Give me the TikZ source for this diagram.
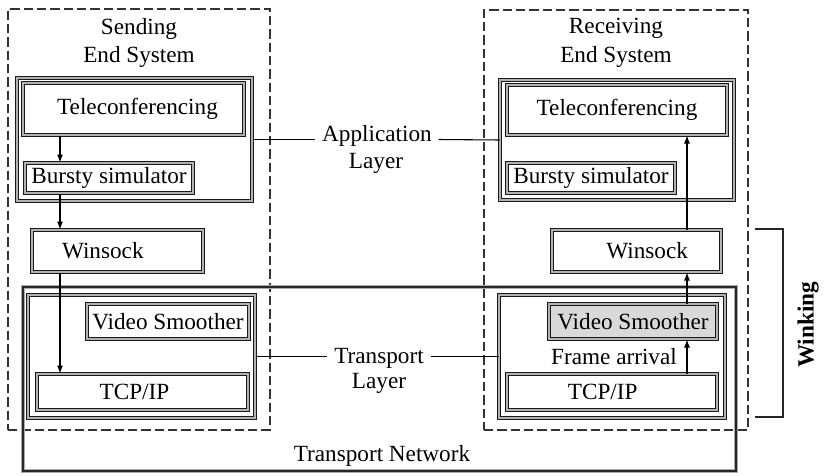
\documentclass[tikz,border=0pt]{standalone}
\usepackage{fontspec}
\setmainfont{Liberation Serif}
\usetikzlibrary{fit,arrows.meta}
\begin{document}
\begin{tikzpicture}[x=0.75pt,y=-0.75pt,
 every node/.style={font=\fontsize{17.4}{21.5}\selectfont},
 every label/.style={font=\fontsize{17.4}{21.5}\selectfont, inner sep=0pt},
 dbox/.style={draw=black!90, line width=0.75pt, double=gray!60, double distance=0.9pt, inner sep=0pt},
 endsys/.style={draw=black!80, line width=1.4pt, dash pattern=on 7pt off 3pt, inner sep=0pt},
 arr/.style={-{Latex[length=6pt,width=4.5pt]}, line width=0.8pt},
 lbl/.style={inner sep=5pt, align=center},
 link/.style={line width=0.8pt},
 net/.style={draw=black!85, line width=0.8pt, preaction={draw=gray!65, line width=2.6pt}}]

\fill[white] (0,0) rectangle (824,475);
\useasboundingbox (0,0) rectangle (824,475);

% end systems
\node[endsys, fit={(8,9) (270,430)}] (sendsys) {};
\node[endsys, fit={(484,10) (748,430)}] (recvsys) {};
\node[lbl] (sendlbl) at (139,43) {Sending\\End System};
\node[lbl] (recvlbl) at (616,43) {Receiving\\End System};

% transport network
\coordinate (n1) at (23,287);
\coordinate (n2) at (736,287);
\coordinate (n3) at (736,471);
\coordinate (n4) at (23,471);
\draw[net] (n1) -- (n2) -- (n3) -- (n4) -- cycle;
\node (tn) at (382,456) {Transport Network};

% sending side
\node[dbox, fit={(17,78) (252,201)}] (appL) {};
\node[dbox, fit={(23,83) (244,135)}, label={[xshift=3pt]center:Teleconferencing}] (tcL) {};
\node[dbox, fit={(25,163) (193,193)}, label={center:Bursty simulator}] (bsL) {};
\node[dbox, fit={(32,230) (203,272)}, label={[xshift=-11pt]center:Winsock}] (wsL) {};
\node[dbox, fit={(28,295) (255,418)}] (trL) {};
\node[dbox, fit={(87,304) (249,339)}, label={center:Video Smoother}] (vsL) {};
\node[dbox, fit={(37,374) (248,410)}, label={[xshift=-6pt]center:TCP/IP}] (tcpL) {};

% receiving side
\node[dbox, fit={(500,80) (734,200)}] (appR) {};
\node[dbox, fit={(507,85) (727,135)}, label={center:Teleconferencing}] (tcR) {};
\node[dbox, fit={(507,163) (675,193)}, label={center:Bursty simulator}] (bsR) {};
\node[dbox, fit={(552,230) (721,272)}, label={[xshift=8pt]center:Winsock}] (wsR) {};
\node[dbox, fit={(499,295) (725,418)}] (trR) {};
\node[dbox, fill=gray!30, fit={(549,304) (717,339)}, label={center:Video Smoother}] (vsR) {};
\node[dbox, fit={(507,374) (717,410)}, label={[xshift=-7pt]center:TCP/IP}] (tcpR) {};
\node (fa) at (614,357) {Frame arrival};

% layer labels
\node[lbl] (appA) at (377,136) {Application};
\node[lbl] (appB) at (376,163) {Layer};
\node[lbl] (trA) at (379,358) {Transport};
\node[lbl] (trB) at (379,383) {Layer};
\draw[link] (appL.east) -- (appA.west |- appL.east);
\draw[link] (appA.east |- appL.east) -- (appR.west);
\draw[link] (trL.east) -- (trA.west |- trL.east);
\draw[link] (trA.east |- trL.east) -- (trR.west);

% arrows
\coordinate (xl) at (60,0);
\coordinate (xr) at (687,0);
\draw[arr] (tcL.south -| xl) -- (bsL.north -| xl);
\draw[arr] (bsL.south -| xl) -- (wsL.north -| xl);
\draw[arr] (wsL.south -| xl) -- (tcpL.north -| xl);
\draw[arr] (tcpR.north -| xr) -- (vsR.south -| xr);
\draw[arr] (vsR.north -| xr) -- (wsR.south -| xr);
\draw[arr] (wsR.north -| xr) -- (tcR.south -| xr);

% winking bracket
\coordinate (bt) at (755,229);
\coordinate (bt2) at (783,229);
\coordinate (bb2) at (783,417);
\coordinate (bb) at (755,417);
\draw[draw=black!85, line width=0.8pt, preaction={draw=gray!65, line width=2pt}] (bt) -- (bt2) -- (bb2) -- (bb);
\node[rotate=90, font=\fontsize{17.4}{21.5}\selectfont\bfseries] (wk) at (808,325) {Winking};
\end{tikzpicture}
\end{document}
